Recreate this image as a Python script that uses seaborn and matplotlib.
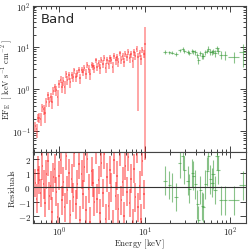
import numpy as np
import seaborn as sns
import matplotlib.pyplot as plt

# spectrum 1 (red) : energy [keV], data, 1-sigma error, residuals
red_energy = [0.52, 0.54, 0.56, 0.58, 0.60, 0.63, 0.65, 0.68, 0.70, 0.73,
              0.76, 0.79, 0.82, 0.85, 0.88, 0.92, 0.95, 0.99, 1.03, 1.07,
              1.11, 1.15, 1.20, 1.24, 1.29, 1.34, 1.39, 1.45, 1.50, 1.56,
              1.62, 1.69, 1.75, 1.82, 1.89, 1.96, 2.04, 2.12, 2.20, 2.29,
              2.38, 2.47, 2.57, 2.67, 2.77, 2.88, 2.99, 3.11, 3.23, 3.35,
              3.48, 3.62, 3.76, 3.91, 4.06, 4.22, 4.38, 4.55, 4.73, 4.91,
              5.10, 5.30, 5.51, 5.72, 5.94, 6.17, 6.41, 6.66, 6.92, 7.19,
              7.47, 7.76, 8.06, 8.37, 8.70, 9.04, 9.39, 9.75, 10.1]
red_flux = [0.13, 0.11, 0.21, 0.21, 0.20, 0.37, 0.33, 0.27, 0.51, 0.72,
            0.51, 0.66, 0.51, 0.92, 1.11, 0.95, 0.67, 1.34, 1.70, 1.15,
            1.57, 1.16, 2.30, 1.67, 2.15, 1.47, 2.14, 1.92, 2.81, 1.94,
            2.42, 2.93, 1.84, 2.93, 2.57, 3.31, 2.38, 3.78, 3.11, 2.33,
            3.83, 3.62, 3.18, 4.88, 3.46, 4.19, 3.19, 5.03, 4.08, 5.60,
            3.31, 5.00, 3.98, 5.53, 4.94, 3.47, 6.34, 4.89, 5.90, 4.50,
            7.28, 5.09, 6.10, 4.51, 7.12, 5.92, 7.83, 5.52, 6.94, 4.61,
            7.73, 6.23, 9.15, 5.84, 7.21, 5.32, 8.91, 6.99, 12.0]
red_err = [0.036, 0.042, 0.048, 0.057, 0.066, 0.081, 0.093, 0.11, 0.126, 0.15,
           0.14, 0.16, 0.18, 0.20, 0.23, 0.25, 0.27, 0.29, 0.32, 0.34,
           0.37, 0.39, 0.41, 0.43, 0.46, 0.38, 0.40, 0.42, 0.44, 0.45,
           0.47, 0.49, 0.51, 0.53, 0.55, 0.57, 0.59, 0.61, 0.63, 0.65,
           0.68, 0.70, 0.72, 0.74, 0.77, 0.79, 0.81, 0.84, 0.86, 0.88,
           0.90, 0.92, 0.94, 0.97, 0.99, 1.01, 1.03, 1.05, 1.08, 1.10,
           1.12, 1.14, 1.16, 1.19, 1.21, 1.23, 1.25, 1.27, 1.29, 1.32,
           1.34, 1.36, 1.38, 1.40, 1.42, 1.45, 1.47, 1.49, 18.0]
red_resid = [0.3, -0.8, 1.2, 0.5, -0.4, 1.5, 0.2, -1.1, 0.9, 1.8,
             -0.6, 0.1, -1.7, 0.7, 1.3, -0.3, -2.1, 0.8, 1.9, -0.9,
             0.4, -1.4, 2.2, -0.2, 1.0, -1.9, 0.6, -0.7, 2.4, -1.2,
             0.2, 1.6, -2.3, 0.9, -0.5, 1.4, -1.6, 2.0, -0.1, -2.4,
             1.1, 0.3, -1.0, 2.6, -0.8, 0.5, -1.8, 1.7, -0.4, 2.3,
             -2.2, 0.7, -1.3, 1.2, 0.0, -2.6, 1.9, -0.6, 0.8, -1.5,
             2.5, -0.9, 0.4, -2.0, 1.5, -0.3, 2.1, -1.1, 0.6, -2.5,
             1.3, -0.7, 2.7, -1.4, 0.1, -2.2, 1.8, -0.5, 2.9]
# two bins near 10 keV whose lower error drops far down
red_low_idx = [73, 78]
red_low_err = [5.54, 11.99]

# spectrum 2 (green)
green_energy = [17.1, 19.5, 21.1, 23.5, 25.6, 27.8, 29.2, 31.8, 33.4, 36.2,
                37.2, 39.2, 41.4, 42.5, 44.9, 47.3, 48.6, 51.3, 54.1, 55.6,
                58.6, 61.8, 63.5, 66.9, 70.6, 72.5, 78.6, 87.5, 111, 141]
green_xerr = [0.9, 1.0, 1.1, 1.2, 1.2, 1.2, 1.3, 1.4, 1.4, 1.5,
              1.6, 1.7, 1.8, 1.9, 2.0, 2.1, 2.2, 2.3, 2.4, 2.5,
              2.6, 2.8, 3.0, 3.2, 3.4, 3.6, 4.0, 5.0, 16, 12]
green_flux = [7.8, 7.6, 7.5, 7.0, 8.6, 9.2, 8.3, 7.8, 7.4, 8.2,
              8.0, 7.6, 6.5, 5.0, 7.3, 6.4, 6.3, 7.6, 8.3, 9.4,
              7.8, 7.7, 8.1, 7.3, 9.5, 8.4, 6.7, 6.6, 6.0, 7.6]
green_err = [0.7, 0.7, 0.7, 0.8, 0.8, 0.8, 0.8, 0.8, 0.8, 0.9,
             0.9, 0.9, 0.9, 1.0, 1.0, 1.0, 1.0, 1.1, 1.1, 1.2,
             1.2, 1.2, 1.3, 1.3, 1.4, 1.4, 1.5, 1.6, 1.8, 4.2]
green_resid = [0.47, 0.15, 0.0, -0.67, 1.67, 2.2, 1.2, 0.45, -0.1, 1.0,
               0.8, 0.2, -1.2, -2.3, -0.2, -1.3, -1.4, 0.2, 1.1, 2.2,
               0.55, 0.33, 0.9, -0.2, 2.2, 1.2, -0.9, -0.9, -0.9, 0.13]

sns.set_style("ticks")
plt.rcParams['font.family'] = 'cmr10'
plt.rcParams['mathtext.fontset'] = 'cm'
plt.rcParams['axes.formatter.use_mathtext'] = True

red = '#ff1a1a'
green = '#3c9c3c'

fig = plt.figure(figsize=(2.49, 2.51), dpi=100)
ax = fig.add_axes([0.134, 0.39, 0.853, 0.584])
axr = fig.add_axes([0.134, 0.107, 0.853, 0.283], sharex=ax)

red_xerr = np.array(red_energy) * 0.019
err_lo = np.array(red_err)
err_hi = np.array(red_err)
err_lo[-1] = 0
for i, v in zip(red_low_idx, red_low_err):
    err_lo[i] = v

# top panel: unfolded spectrum
ax.errorbar(red_energy, red_flux, xerr=red_xerr, yerr=[err_lo, err_hi],
            fmt='none', ecolor=red, alpha=0.5, elinewidth=1.1)
ax.errorbar(green_energy, green_flux, xerr=green_xerr, yerr=green_err,
            fmt='none', ecolor=green, alpha=0.6, elinewidth=0.8)

ax.set_xscale('log')
ax.set_yscale('log')
ax.set_xlim(0.494, 153)
ax.set_ylim(10**-1.5, 100)
ax.set_ylabel(r'$\mathrm{EF_E\ \ [\ keV\ s^{-1}\ cm^{-2}\ ]}$', fontsize=6)
ax.yaxis.set_label_coords(-0.085, 0.5)
ax.text(0.035, 0.885, 'Band', transform=ax.transAxes, fontsize=9.5,
        family='DejaVu Sans')
ax.tick_params(labelbottom=False)

# bottom panel: residuals
axr.errorbar(red_energy, red_resid, xerr=red_xerr, yerr=1,
             fmt='none', ecolor=red, alpha=0.45, elinewidth=1.4)
axr.errorbar(green_energy, green_resid, xerr=green_xerr, yerr=1,
             fmt='none', ecolor=green, alpha=0.6, elinewidth=0.8)
sns.lineplot(x=[0.494, 153], y=[0, 0], ax=axr, color='#333333', lw=0.8)
axr.set_ylim(-2.5, 2.45)
axr.set_yticks([-2, -1, 0, 1, 2])
axr.set_yticklabels([r'$-2$', r'$-1$', r'$0$', r'$1$', r'$2$'])
axr.set_ylabel(r'$\mathrm{Residuals}$', fontsize=6.5)
axr.yaxis.set_label_coords(-0.078, 0.5)
axr.set_xlabel(r'$\mathrm{Energy\ [keV]}$', fontsize=6.3)
axr.xaxis.set_label_coords(0.5, -0.19)

for a in (ax, axr):
    a.tick_params(which='both', direction='in', top=True, right=True,
                  labelsize=6.5, width=0.6, colors='#222222', pad=2)
    a.tick_params(which='major', length=4)
    a.tick_params(which='minor', length=2)
    for s in a.spines.values():
        s.set_linewidth(0.8)
        s.set_color('#444444')
axr.tick_params(axis='x', pad=1)

fig.savefig('out.png', dpi=100)
